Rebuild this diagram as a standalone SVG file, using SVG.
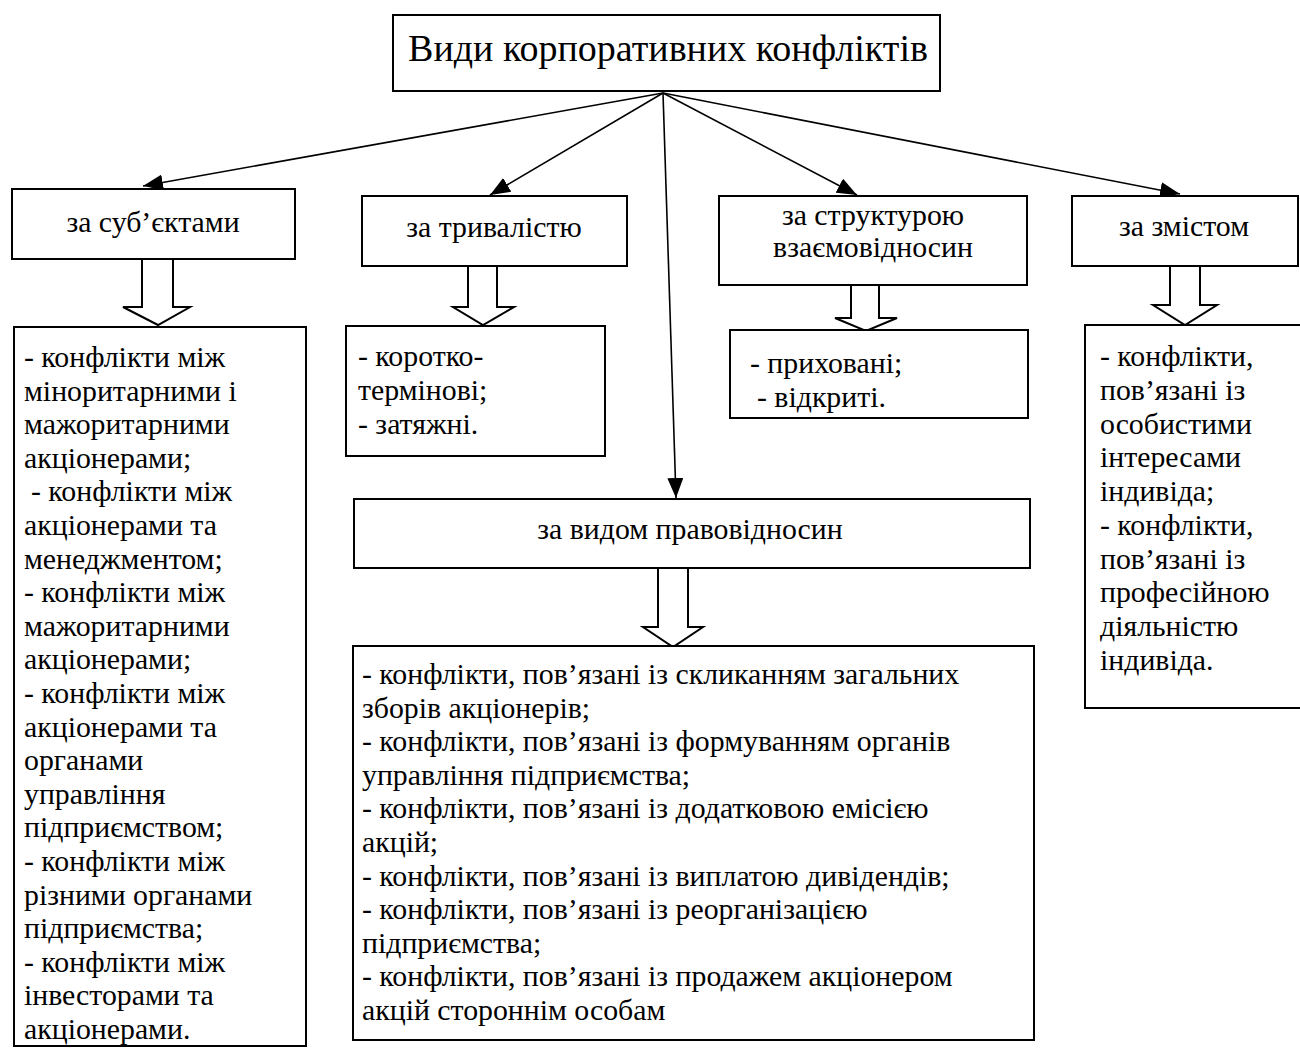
<svg xmlns="http://www.w3.org/2000/svg" width="1300" height="1048" viewBox="0 0 1300 1048">
<defs>
<style>
.box{fill:#fff;stroke:#000;stroke-width:2}
.blk{fill:#fff;stroke:#000;stroke-width:2;stroke-linejoin:miter}
.con{fill:none;stroke:#000;stroke-width:1.6}
text{font-family:"Liberation Serif","Times New Roman",serif;fill:#000}
.t{font-size:29.8px}
.h{font-size:29.8px;text-anchor:middle}
.ttl{font-size:38px;text-anchor:middle}
</style>
<marker id="ah" markerUnits="userSpaceOnUse" markerWidth="22" markerHeight="16" refX="20" refY="8" orient="auto">
<path d="M0,0 L20,8 L0,16 Z" fill="#000"/>
</marker>
</defs>
<rect width="1300" height="1048" fill="#fff"/>

<g id="title">
<rect class="box" x="393" y="15" width="547" height="76"/>
<text class="ttl" x="668" y="61">Види корпоративних конфліктів</text>
</g>

<g id="connectors">
<line class="con" x1="663" y1="93" x2="143" y2="186" marker-end="url(#ah)"/>
<line class="con" x1="663" y1="93" x2="490" y2="195" marker-end="url(#ah)"/>
<line class="con" x1="663" y1="93" x2="857" y2="195" marker-end="url(#ah)"/>
<line class="con" x1="663" y1="93" x2="1180" y2="194" marker-end="url(#ah)"/>
<line class="con" x1="663" y1="93" x2="676" y2="498" marker-end="url(#ah)"/>
<path class="blk" d="M142,259 L173,259 L173,307 L190,307 L158,325 L123,307 L142,307 Z"/>
<path class="blk" d="M468,266 L497,266 L497,307 L514,307 L483,325 L453,307 L468,307 Z"/>
<path class="blk" d="M851,285 L879,285 L879,318 L897,318 L866,331 L835,318 L851,318 Z"/>
<path class="blk" d="M1170,266 L1200,266 L1200,305 L1217,305 L1185,325 L1153,305 L1170,305 Z"/>
<path class="blk" d="M658,568 L688,568 L688,627 L703,627 L673,647 L643,627 L658,627 Z"/>
</g>

<g id="by-subjects">
<rect class="box" x="12" y="189" width="283" height="70"/>
<text class="h" x="153" y="232">за суб’єктами</text>
</g>

<g id="by-duration">
<rect class="box" x="362" y="196" width="265" height="70"/>
<text class="h" x="494" y="237">за тривалістю</text>
</g>

<g id="by-structure">
<rect class="box" x="719" y="196" width="308" height="89"/>
<text class="h" x="873" y="225">за структурою</text>
<text class="h" x="873" y="257">взаємовідносин</text>
</g>

<g id="by-content">
<rect class="box" x="1072" y="196" width="226" height="70"/>
<text class="h" x="1184" y="236">за змістом</text>
</g>

<g id="by-legal">
<rect class="box" x="354" y="499" width="676" height="69"/>
<text class="h" x="690" y="539">за видом правовідносин</text>
</g>

<g id="list-subjects">
<rect class="box" x="14" y="327" width="292" height="719"/>
<text class="t">
<tspan x="24" y="367">- конфлікти між</tspan>
<tspan x="24" y="400.6">міноритарними і</tspan>
<tspan x="24" y="434.2">мажоритарними</tspan>
<tspan x="24" y="467.8">акціонерами;</tspan>
<tspan x="31" y="501.4">- конфлікти між</tspan>
<tspan x="24" y="535">акціонерами та</tspan>
<tspan x="24" y="568.6">менеджментом;</tspan>
<tspan x="24" y="602.2">- конфлікти між</tspan>
<tspan x="24" y="635.8">мажоритарними</tspan>
<tspan x="24" y="669.4">акціонерами;</tspan>
<tspan x="24" y="703">- конфлікти між</tspan>
<tspan x="24" y="736.6">акціонерами та</tspan>
<tspan x="24" y="770.2">органами</tspan>
<tspan x="24" y="803.8">управління</tspan>
<tspan x="24" y="837.4">підприємством;</tspan>
<tspan x="24" y="871">- конфлікти між</tspan>
<tspan x="24" y="904.6">різними органами</tspan>
<tspan x="24" y="938.2">підприємства;</tspan>
<tspan x="24" y="971.8">- конфлікти між</tspan>
<tspan x="24" y="1005.4">інвесторами та</tspan>
<tspan x="24" y="1039">акціонерами.</tspan>
</text>
</g>

<g id="list-duration">
<rect class="box" x="346" y="326" width="259" height="130"/>
<text class="t">
<tspan x="358" y="366">- коротко-</tspan>
<tspan x="358" y="400">термінові;</tspan>
<tspan x="358" y="434">- затяжні.</tspan>
</text>
</g>

<g id="list-structure">
<rect class="box" x="730" y="330" width="298" height="88"/>
<text class="t">
<tspan x="750" y="373">- приховані;</tspan>
<tspan x="757" y="407">- відкриті.</tspan>
</text>
</g>

<g id="list-content">
<rect class="box" x="1085" y="325" width="216" height="383"/>
<text class="t">
<tspan x="1100" y="366">- конфлікти,</tspan>
<tspan x="1100" y="400">пов’язані із</tspan>
<tspan x="1100" y="434">особистими</tspan>
<tspan x="1100" y="467">інтересами</tspan>
<tspan x="1100" y="501">індивіда;</tspan>
<tspan x="1100" y="535">- конфлікти,</tspan>
<tspan x="1100" y="569">пов’язані із</tspan>
<tspan x="1100" y="602">професійною</tspan>
<tspan x="1100" y="636">діяльністю</tspan>
<tspan x="1100" y="670">індивіда.</tspan>
</text>
</g>

<g id="list-legal">
<rect class="box" x="353" y="646" width="681" height="394"/>
<text class="t">
<tspan x="362" y="684">- конфлікти, пов’язані із скликанням загальних</tspan>
<tspan x="362" y="717.6">зборів акціонерів;</tspan>
<tspan x="362" y="751.2">- конфлікти, пов’язані із формуванням органів</tspan>
<tspan x="362" y="784.8">управління підприємства;</tspan>
<tspan x="362" y="818.4">- конфлікти, пов’язані із додатковою емісією</tspan>
<tspan x="362" y="852">акцій;</tspan>
<tspan x="362" y="885.6">- конфлікти, пов’язані із виплатою дивідендів;</tspan>
<tspan x="362" y="919.2">- конфлікти, пов’язані із реорганізацією</tspan>
<tspan x="362" y="952.8">підприємства;</tspan>
<tspan x="362" y="986.4">- конфлікти, пов’язані із продажем акціонером</tspan>
<tspan x="362" y="1020">акцій стороннім особам</tspan>
</text>
</g>
</svg>
